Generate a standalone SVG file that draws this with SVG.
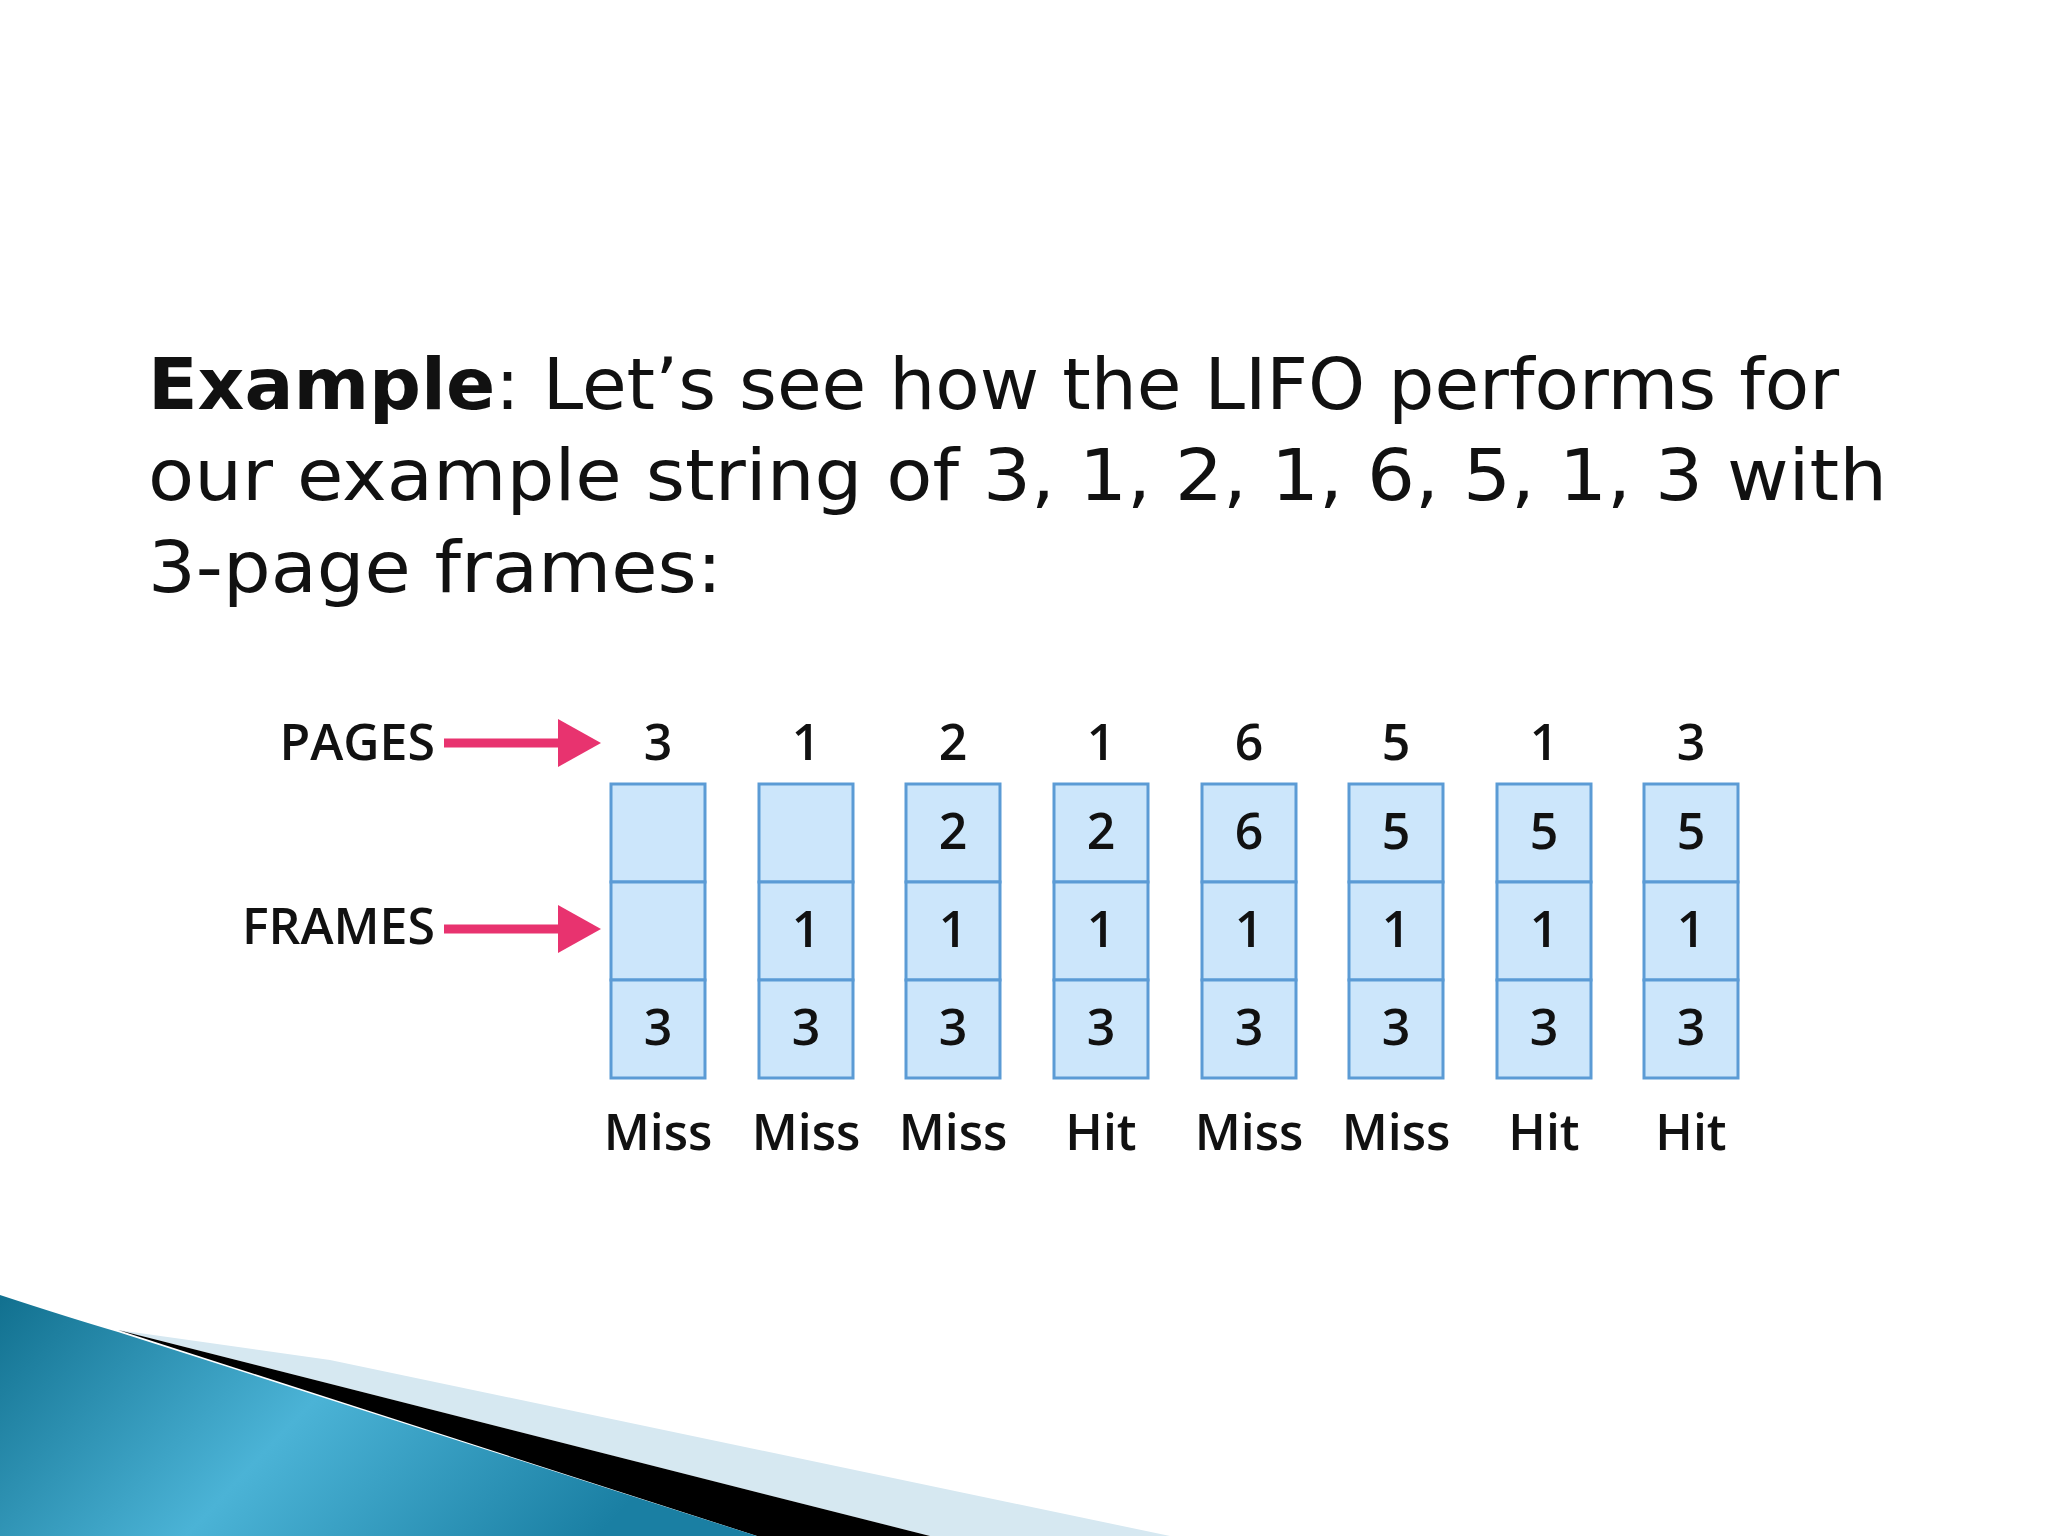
<svg xmlns="http://www.w3.org/2000/svg" width="2048" height="1536" viewBox="0 0 2048 1536">
<defs>
<style>
.t{font-family:"DejaVu Sans",sans-serif;font-size:72px;fill:#111}
.d{font-family:"Open Sans","Noto Sans",sans-serif;font-size:50px;fill:#111;text-anchor:middle;font-weight:600}
.l{font-family:"Open Sans","Noto Sans",sans-serif;font-size:50px;fill:#111;text-anchor:end;font-weight:600}
.c{fill:#cce6fb;stroke:#5b9bd5;stroke-width:3}
.a{stroke:#e8336f;stroke-width:9;fill:none}
.h{fill:#e8336f}
</style>
<linearGradient id="g" x1="0" y1="0" x2="1" y2="0.3">
<stop offset="0" stop-color="#11708f"/><stop offset="0.5" stop-color="#4bb3d6"/><stop offset="1" stop-color="#1a7fa3"/>
</linearGradient>
</defs>
<rect width="2048" height="1536" fill="#fff"/>
<g id="deco">
<path d="M1170,1536 L330,1360 L118,1330 L930,1536 Z" fill="#d6e8f1"/>
<path d="M930,1536 L118,1330 L757,1536 Z" fill="#000"/>
<path d="M0,1295 Q70,1318 118,1332 L757,1536 L0,1536 Z" fill="url(#g)"/>
</g>
<g id="title">
<text class="t" x="148" y="409" textLength="1691" lengthAdjust="spacingAndGlyphs"><tspan font-weight="bold">Example</tspan>: Let’s see how the LIFO performs for</text>
<text class="t" x="148" y="500" textLength="1739" lengthAdjust="spacingAndGlyphs">our example string of 3, 1, 2, 1, 6, 5, 1, 3 with</text>
<text class="t" x="148" y="592" textLength="574" lengthAdjust="spacingAndGlyphs">3-page frames:</text>
</g>
<g id="labels">
<text class="l" x="435" y="760">PAGES</text>
<text class="l" x="435" y="944">FRAMES</text>
</g>
<g id="connectors">
<line class="a" x1="444" y1="743" x2="562" y2="743"/>
<polygon class="h" points="558,719 601,743 558,767"/>
<line class="a" x1="444" y1="929" x2="562" y2="929"/>
<polygon class="h" points="558,905 601,929 558,953"/>
</g>
<g id="columns">
<g id="col1"><text class="d" x="658" y="760">3</text><rect class="c" x="611" y="784" width="94" height="98"/><rect class="c" x="611" y="882" width="94" height="98"/><rect class="c" x="611" y="980" width="94" height="98"/><text class="d" x="658" y="1045">3</text><text class="d" x="658" y="1150">Miss</text></g>
<g id="col2"><text class="d" x="806" y="760">1</text><rect class="c" x="759" y="784" width="94" height="98"/><rect class="c" x="759" y="882" width="94" height="98"/><rect class="c" x="759" y="980" width="94" height="98"/><text class="d" x="806" y="947">1</text><text class="d" x="806" y="1045">3</text><text class="d" x="806" y="1150">Miss</text></g>
<g id="col3"><text class="d" x="953" y="760">2</text><rect class="c" x="906" y="784" width="94" height="98"/><rect class="c" x="906" y="882" width="94" height="98"/><rect class="c" x="906" y="980" width="94" height="98"/><text class="d" x="953" y="849">2</text><text class="d" x="953" y="947">1</text><text class="d" x="953" y="1045">3</text><text class="d" x="953" y="1150">Miss</text></g>
<g id="col4"><text class="d" x="1101" y="760">1</text><rect class="c" x="1054" y="784" width="94" height="98"/><rect class="c" x="1054" y="882" width="94" height="98"/><rect class="c" x="1054" y="980" width="94" height="98"/><text class="d" x="1101" y="849">2</text><text class="d" x="1101" y="947">1</text><text class="d" x="1101" y="1045">3</text><text class="d" x="1101" y="1150">Hit</text></g>
<g id="col5"><text class="d" x="1249" y="760">6</text><rect class="c" x="1202" y="784" width="94" height="98"/><rect class="c" x="1202" y="882" width="94" height="98"/><rect class="c" x="1202" y="980" width="94" height="98"/><text class="d" x="1249" y="849">6</text><text class="d" x="1249" y="947">1</text><text class="d" x="1249" y="1045">3</text><text class="d" x="1249" y="1150">Miss</text></g>
<g id="col6"><text class="d" x="1396" y="760">5</text><rect class="c" x="1349" y="784" width="94" height="98"/><rect class="c" x="1349" y="882" width="94" height="98"/><rect class="c" x="1349" y="980" width="94" height="98"/><text class="d" x="1396" y="849">5</text><text class="d" x="1396" y="947">1</text><text class="d" x="1396" y="1045">3</text><text class="d" x="1396" y="1150">Miss</text></g>
<g id="col7"><text class="d" x="1544" y="760">1</text><rect class="c" x="1497" y="784" width="94" height="98"/><rect class="c" x="1497" y="882" width="94" height="98"/><rect class="c" x="1497" y="980" width="94" height="98"/><text class="d" x="1544" y="849">5</text><text class="d" x="1544" y="947">1</text><text class="d" x="1544" y="1045">3</text><text class="d" x="1544" y="1150">Hit</text></g>
<g id="col8"><text class="d" x="1691" y="760">3</text><rect class="c" x="1644" y="784" width="94" height="98"/><rect class="c" x="1644" y="882" width="94" height="98"/><rect class="c" x="1644" y="980" width="94" height="98"/><text class="d" x="1691" y="849">5</text><text class="d" x="1691" y="947">1</text><text class="d" x="1691" y="1045">3</text><text class="d" x="1691" y="1150">Hit</text></g>
</g>
</svg>
